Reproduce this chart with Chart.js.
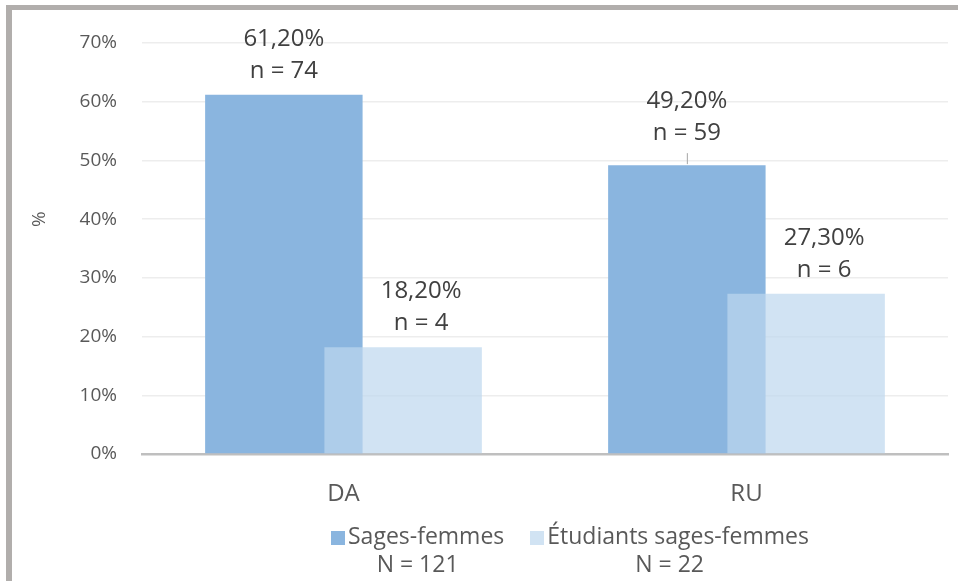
<!DOCTYPE html>
<html>
<head>
<meta charset="utf-8">
<script src="https://cdn.jsdelivr.net/npm/chart.js@4/dist/chart.umd.min.js"></script>
<style>
  html, body { margin: 0; padding: 0; background: #fff; }
  #wrap { position: relative; width: 958px; height: 581px; overflow: hidden; }
  #frame { position: absolute; left: 6px; top: 5px; right: 0; bottom: 0;
           border-left: 6px solid #b1aeac; border-top: 5px solid #b1aeac; pointer-events: none; }
  #legend { position: absolute; left: 331px; top: 521px; font-family: 'Open Sans', sans-serif;
            font-size: 23px; color: #595959; line-height: 28px; white-space: nowrap; }
  .item { display: inline-block; text-align: center; margin-right: 26px; vertical-align: top; }
  .box { display: inline-block; width: 14px; height: 14px; margin-right: 3px; vertical-align: -1px; }
</style>
</head>
<body>
<div id="wrap">
  <canvas id="chart" width="958" height="581"></canvas>
  <div id="frame"></div>
  <div id="legend"></div>
</div>
<script>
// categories and values
const categories = ['DA', 'RU'];
const seriesNames = ['Sages-femmes', 'Étudiants sages-femmes'];
const groupTotals = [121, 22];
const sagesFemmes = [61.2, 49.2];
const sagesFemmesN = [74, 59];
const etudiants = [18.2, 27.3];
const etudiantsN = [4, 6];
const yTicks = [0, 10, 20, 30, 40, 50, 60, 70];

const SHIFT = 0.148; // half distance between the two bars of a group, in category units

const darkBlue = '#8ab5df';
const lightBlue = 'rgba(189, 215, 238, 0.7)';

Chart.defaults.font.family = "'Open Sans', sans-serif";

function points(values, side) {
  return values.map((v, i) => ({ x: i + 1 + side * SHIFT, y: v }));
}

function pct(v) {
  return v.toFixed(2).replace('.', ',') + '%';
}

// two-line labels above bars, "61,20%" / "n = 74"
const barLabels = {
  id: 'barLabels',
  afterDatasetsDraw(chart, args, opts) {
    const ctx = chart.ctx;
    ctx.save();
    ctx.font = "24px 'Open Sans', sans-serif";
    ctx.fillStyle = '#404040';
    ctx.textAlign = 'center';
    ctx.textBaseline = 'middle';
    chart.data.datasets.forEach((ds, di) => {
      const meta = chart.getDatasetMeta(di);
      meta.data.forEach((bar, i) => {
        const lift = (opts.lifted[di] && opts.lifted[di][i]) || 0;
        const x = bar.x + (ds.labelDx || 0);
        const y = bar.y - lift;
        ctx.fillText(pct(ds.data[i].y), x, y - 56);
        ctx.fillText('n = ' + ds.counts[i], x, y - 24);
        if (lift) {
          ctx.strokeStyle = '#a6a6a6';
          ctx.lineWidth = 1;
          ctx.beginPath();
          ctx.moveTo(bar.x + 0.5, bar.y - 1);
          ctx.lineTo(bar.x + 0.5, bar.y - lift - 4);
          ctx.stroke();
        }
      });
    });
    // y axis title, sits level with the 40% tick
    const yScale = chart.scales.y;
    ctx.translate(40, yScale.getPixelForValue(40));
    ctx.rotate(-Math.PI / 2);
    ctx.fillStyle = '#595959';
    ctx.font = "19px 'Open Sans', sans-serif";
    ctx.fillText('%', 0, 0);
    ctx.restore();
  }
};

const chart = new Chart(document.getElementById('chart'), {
  type: 'bar',
  data: {
    datasets: [
      { label: seriesNames[0], data: points(sagesFemmes, -1), counts: sagesFemmesN,
        backgroundColor: darkBlue, order: 1 },
      { label: seriesNames[1], data: points(etudiants, 1), counts: etudiantsN,
        backgroundColor: lightBlue, order: 0, labelDx: 18 }
    ]
  },
  options: {
    responsive: false,
    animation: false,
    layout: { padding: { top: 43, right: 10, left: 0, bottom: 0 } },
    datasets: { bar: { grouped: false, categoryPercentage: 1, barPercentage: 1.32 } },
    plugins: {
      legend: { display: false },
      tooltip: { enabled: false },
      barLabels: { lifted: { 0: { 1: 8 } } }
    },
    scales: {
      x: {
        type: 'linear',
        offset: false,
        min: 0.5,
        max: categories.length + 0.5,
        afterBuildTicks: s => { s.ticks = categories.map((c, i) => ({ value: i + 1 })); },
        afterFit: s => { s.height = 127; },
        grid: { display: false, drawTicks: false, offset: false },
        border: { display: true, color: '#bfbfbf', width: 2.5 },
        ticks: {
          padding: 26,
          color: '#595959',
          font: { size: 24 },
          callback: v => categories[v - 1]
        }
      },
      y: {
        min: 0,
        max: 70,
        afterBuildTicks: s => { s.ticks = yTicks.map(v => ({ value: v })); },
        afterFit: s => { s.width = 142; },
        grid: { color: '#ededed', lineWidth: 1.5, drawTicks: false },
        border: { display: false },
        ticks: {
          padding: 25,
          color: '#595959',
          font: { size: 19 },
          callback: v => v + '%'
        }
      }
    }
  },
  plugins: [barLabels]
});

// legend: marker on the name line, group total centred underneath
const legend = document.getElementById('legend');
chart.data.datasets.forEach((ds, i) => {
  const item = document.createElement('div');
  item.className = 'item';
  item.innerHTML = '<span class="box" style="background:' + ds.backgroundColor + '"></span>' +
    ds.label + '<br>N = ' + groupTotals[i];
  legend.appendChild(item);
});
</script>
</body>
</html>
